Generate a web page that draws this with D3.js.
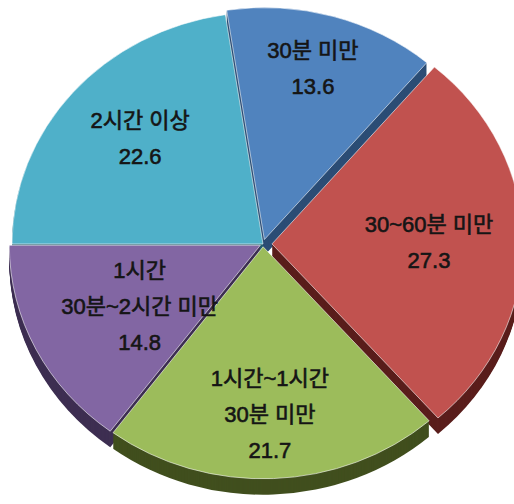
<!DOCTYPE html>
<html>
<head>
<meta charset="utf-8">
<script src="https://cdn.jsdelivr.net/npm/d3@7"></script>
<style>
  body { margin: 0; background: #fff; }
  text { font-family: "Liberation Sans", "Noto Sans CJK KR", sans-serif; }
</style>
</head>
<body>
<div id="chart"></div>
<script>
// data
var categories = ["30분 미만", "30~60분 미만", "1시간~1시간\n30분 미만", "1시간\n30분~2시간 미만", "2시간 이상"];
var values = [13.6, 27.3, 21.7, 14.8, 22.6];
var colors = ["#5083be", "#c1524f", "#9cbc5b", "#8266a3", "#4fb0c9"];
var sideColors = ["#2c4d75", "#5a1e1c", "#414f1e", "#3e2f52", "#24606f"];

var width = 514, height = 504;
var cx = 263, cy = 244, R = 251, ry = 232, depth = 16;
var explode = [5, 9, 3, 3, 0];
var labelR = [183, 166, 170, 138, 162];

var svg = d3.select("#chart").append("svg")
    .attr("width", width)
    .attr("height", height);

// purple/cyan boundary sits at 9 o'clock
var before = d3.sum(values.slice(0, 4)) / d3.sum(values);
var a0 = 1.5 * Math.PI - before * 2 * Math.PI;

var pie = d3.pie().sort(null).value(d => d)
    .startAngle(a0).endAngle(a0 + 2 * Math.PI);
var arcs = pie(values);

var arc = d3.arc().innerRadius(0).outerRadius(R);
var sy = ry / R;

function offset(d, i) {
    var m = (d.startAngle + d.endAngle) / 2;
    return [Math.sin(m) * explode[i], -Math.cos(m) * explode[i] * sy];
}

// 3d sides
var sides = svg.append("g");
for (var k = depth; k >= 1; k--) {
    sides.selectAll(null)
        .data(arcs)
        .enter()
        .append("path")
        .attr("d", arc)
        .attr("fill", (d, i) => sideColors[i])
        .attr("transform", function (d, i) {
            var o = offset(d, i);
            return "translate(" + (cx + o[0]) + "," + (cy + o[1] + k) + ") scale(1," + sy + ")";
        });
}

// tops
svg.append("g").selectAll("path")
    .data(arcs)
    .enter()
    .append("path")
    .attr("d", arc)
    .attr("fill", (d, i) => colors[i])
    .attr("stroke", "#ffffff")
    .attr("stroke-width", 0.6)
    .attr("transform", function (d, i) {
        var o = offset(d, i);
        return "translate(" + (cx + o[0]) + "," + (cy + o[1]) + ") scale(1," + sy + ")";
    });

// labels
var lab = svg.append("g").selectAll("text")
    .data(arcs)
    .enter()
    .append("text")
    .attr("text-anchor", "middle")
    .attr("font-size", 22)
    .attr("fill", "#151515")
    .attr("stroke", "#151515")
    .attr("stroke-width", 0.6)
    .attr("transform", function (d, i) {
        var m = (d.startAngle + d.endAngle) / 2;
        var x = cx + Math.sin(m) * labelR[i];
        var y = cy - Math.cos(m) * labelR[i];
        return "translate(" + x + "," + y + ")";
    });

lab.each(function (d, i) {
    var lines = categories[i].split("\n").concat([d3.format(".1f")(values[i])]);
    var t = d3.select(this);
    var n = lines.length;
    lines.forEach(function (s, j) {
        t.append("tspan")
            .attr("x", 0)
            .attr("y", (j - (n - 1) / 2) * 36 + 8)
            .text(s);
    });
});
</script>
</body>
</html>
